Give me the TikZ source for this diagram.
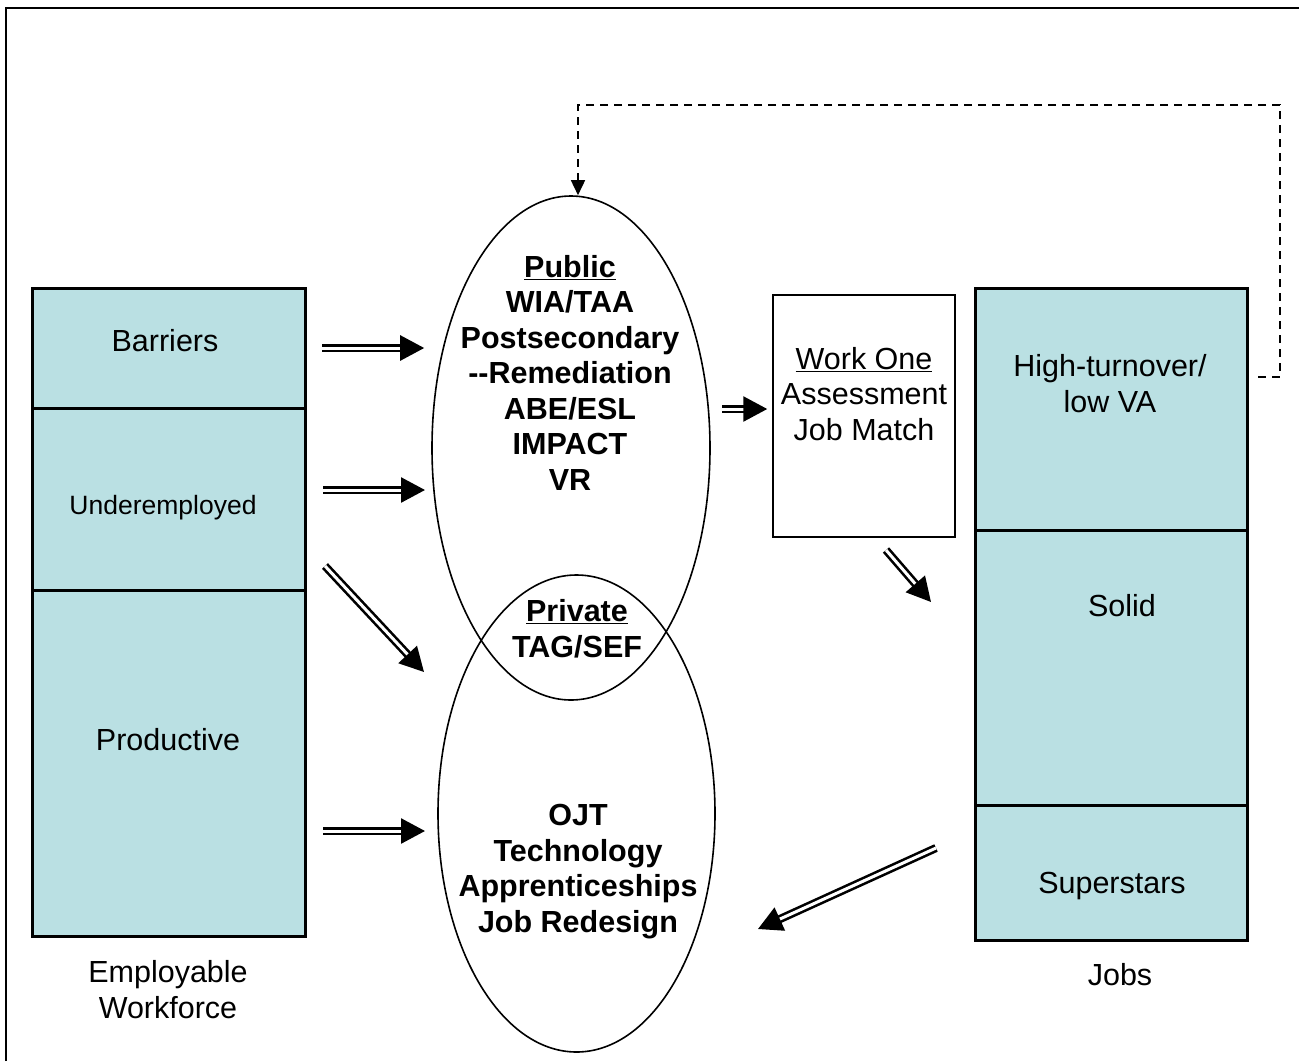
\documentclass[tikz,border=0pt]{standalone}
\usepackage{fontspec}
\setmainfont{Liberation Sans}
\usepackage{xcolor}
\definecolor{celltint}{RGB}{186,224,227}
\usetikzlibrary{shapes.geometric,arrows.meta}

\tikzset{
  cell/.style={rectangle, draw, line width=3pt, fill=celltint, inner sep=0pt, outer sep=0pt},
  lbl/.style={font=\fontsize{30.5}{35.5}\selectfont, align=center, anchor=base, inner sep=0pt},
  blbl/.style={lbl, font=\fontsize{30.5}{35.5}\selectfont\bfseries},
  oval/.style={ellipse, draw, line width=1.6pt, inner sep=0pt},
  dblarrow/.style={double, double distance=3pt, line width=2.6pt, -{Triangle[length=24pt, width=25pt]}},
  fbline/.style={dashed, dash pattern=on 8pt off 6pt, line width=1.6pt, -{Triangle[length=15pt, width=14pt]}}
}

\begin{document}
\begin{tikzpicture}[x=1pt, y=-1pt]
    \useasboundingbox (0,0) rectangle (1299,1061);
    % outer frame
    \draw[line width=2.5pt] (6,1061) -- (6,8) -- (1299,8);

    % Employable workforce column (text nodes sit on their last baseline)
    \node[cell, minimum width=273pt, minimum height=120pt] (barriers) at (168.5,348) {};
    \node[cell, minimum width=273pt, minimum height=182pt] (underemp) at (168.5,499) {};
    \node[cell, minimum width=273pt, minimum height=346pt] (productive) at (168.5,763) {};
    \node[lbl] at (165,351) {Barriers};
    \node[lbl, font=\fontsize{26.5}{31}\selectfont] at (163,514) {Underemployed};
    \node[lbl] at (168,750) {Productive};
    \node[lbl] at (168,1018) {Employable\\Workforce};

    % Jobs column
    \node[cell, minimum width=272pt, minimum height=242pt] (highturn) at (1111,409) {};
    \node[cell, minimum width=272pt, minimum height=275pt] (solid) at (1111,667.5) {};
    \node[cell, minimum width=272pt, minimum height=135pt] (superstars) at (1111,872.5) {};
    \node[lbl] at (1110,412) {High-turnover/\\low VA};
    \node[lbl] at (1122,616) {Solid};
    \node[lbl] at (1112,893) {Superstars};
    \node[lbl] at (1120,985) {Jobs};

    % Work One box
    \node[rectangle, draw, line width=1.5pt, minimum width=182pt, minimum height=242pt] (workone) at (864,416) {};
    \node[lbl] at (864,440) {\underline{Work One}\\Assessment\\Job Match};

    % Public and private programs
    \node[oval, minimum width=278pt, minimum height=504pt] (pub) at (571,448) {};
    \node[oval, minimum width=277pt, minimum height=477pt] (priv) at (576.5,813.5) {};
    \node[blbl] at (570,490) {\underline{Public}\\WIA/TAA\\Postsecondary\\-{}-Remediation\\ABE/ESL\\IMPACT\\VR};
    \node[blbl] at (577,657) {\underline{Private}\\TAG/SEF};
    \node[blbl] at (578,932) {OJT\\Technology\\Apprenticeships\\Job Redesign};

    % Arrow ends
    \coordinate (a2s) at (323,490);
    \coordinate (a2e) at (425,490);
    \coordinate (a3s) at (325,566);
    \coordinate (a3e) at (424,672);
    \coordinate (a4s) at (323,831);
    \coordinate (a4e) at (425,831);
    \coordinate (a5s) at (722,409);
    \coordinate (a6s) at (886,550);
    \coordinate (a6e) at (931,602);
    \coordinate (a7s) at (936,848);
    \coordinate (a7e) at (758,929);

    % Flows
    \draw[dblarrow, shorten <=17pt, shorten >=7pt] (barriers.east) -- (barriers.east -| pub.west);
    \draw[dblarrow] (a2s) -- (a2e);
    \draw[dblarrow] (a3s) -- (a3e);
    \draw[dblarrow] (a4s) -- (a4e);
    \draw[dblarrow, shorten >=5pt] (a5s) -- (a5s -| workone.west);
    \draw[dblarrow] (a6s) -- (a6e);
    \draw[dblarrow] (a7s) -- (a7e);

    % Feedback loop
    \coordinate (fbs) at (1258,377);
    \coordinate (fbc) at (1280,105);
    \draw[fbline] (fbs) -| (fbc) -| ([xshift=7pt]pub.north);
\end{tikzpicture}
\end{document}
